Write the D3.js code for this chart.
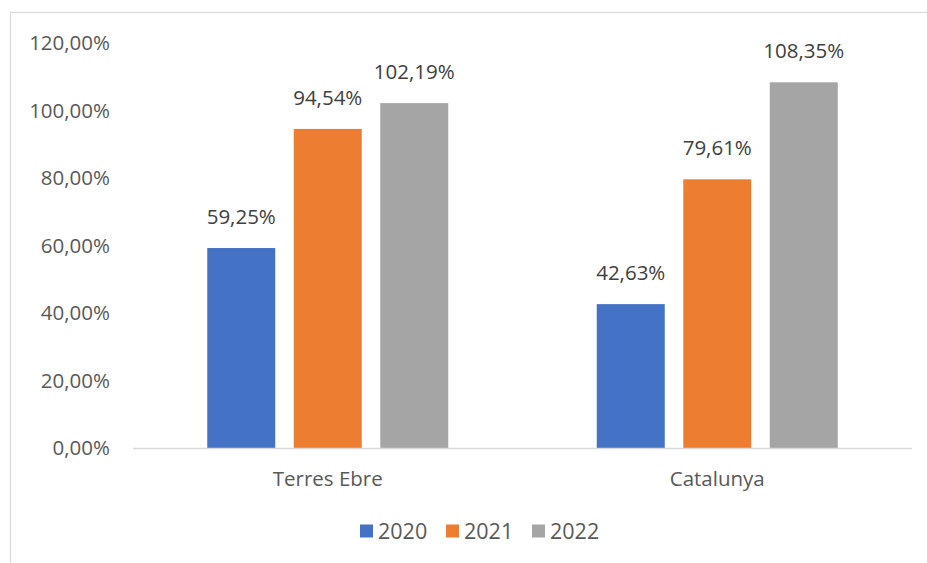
<!DOCTYPE html>
<html><head><meta charset="utf-8">
<script src="https://cdn.jsdelivr.net/npm/d3@7"></script>
<style>body{margin:0;background:#fff;} svg{display:block;font-family:"Open Sans",sans-serif;}</style>
</head><body><svg id="c" width="927" height="563"></svg>
<script>
const categories = ["Terres Ebre", "Catalunya"];
const seriesNames = ["2020", "2021", "2022"];
const values2020 = [59.25, 42.63];
const values2021 = [94.54, 79.61];
const values2022 = [102.19, 108.35];
const colors = ["#4472C4", "#ED7D31", "#A5A5A5"];
const yTicks = [0, 20, 40, 60, 80, 100, 120];

const series = [values2020, values2021, values2022];
const fmt = v => d3.format(".2f")(v).replace(".", ",") + "%";
const FS = 20.5;

const svg = d3.select("#c");
svg.append("rect").attr("x", 10.5).attr("y", 12.5).attr("width", 940).attr("height", 580)
  .attr("fill", "none").attr("stroke", "#d9d9d9").attr("stroke-width", 1.2);

const y = d3.scaleLinear().domain([0, 120]).range([448, 43]);
const x0 = d3.scaleBand().domain(categories).range([133, 912]).padding(0);
const bw = x0.bandwidth();
const x1 = d3.scaleBand().domain(seriesNames).range([bw / 2 - 120.5, bw / 2 + 120.5]).paddingInner(0.214).paddingOuter(0);

// y tick labels
svg.append("g").selectAll("text").data(yTicks).join("text")
  .attr("x", 110).attr("y", d => y(d)).attr("dy", "0.35em")
  .attr("text-anchor", "end").attr("fill", "#595959").attr("font-size", FS)
  .text(d => d3.format(".2f")(d).replace(".", ",") + "%");

// bars
const groups = svg.append("g").selectAll("g").data(categories).join("g")
  .attr("transform", d => `translate(${x0(d)},0)`);
seriesNames.forEach((s, si) => {
  groups.append("rect")
    .attr("x", x1(s)).attr("width", x1.bandwidth())
    .attr("y", (d, i) => y(series[si][i]))
    .attr("height", (d, i) => y(0) - y(series[si][i]))
    .attr("fill", colors[si]);
  groups.append("text")
    .attr("x", x1(s) + x1.bandwidth() / 2)
    .attr("y", (d, i) => y(series[si][i]) - 24)
    .attr("text-anchor", "middle").attr("fill", "#404040").attr("font-size", FS)
    .text((d, i) => fmt(series[si][i]));
});

// x axis line
svg.append("line").attr("x1", 133).attr("x2", 912).attr("y1", 448.5).attr("y2", 448.5)
  .attr("stroke", "#d9d9d9").attr("stroke-width", 1.5);

// category labels
svg.append("g").selectAll("text").data(categories).join("text")
  .attr("x", d => x0(d) + bw / 2).attr("y", 479).attr("dy", "0.35em")
  .attr("text-anchor", "middle").attr("fill", "#595959").attr("font-size", FS)
  .text(d => d);

// legend
const legX = [360, 446, 532];
const leg = svg.append("g").selectAll("g").data(seriesNames).join("g")
  .attr("transform", (d, i) => `translate(${legX[i]},531)`);
leg.append("rect").attr("x", 0).attr("y", -6.5).attr("width", 13).attr("height", 13)
  .attr("fill", (d, i) => colors[i]);
leg.append("text").attr("x", 18).attr("y", 0).attr("dy", "0.35em")
  .attr("fill", "#595959").attr("font-size", 21.5).text(d => d);
</script></body></html>
